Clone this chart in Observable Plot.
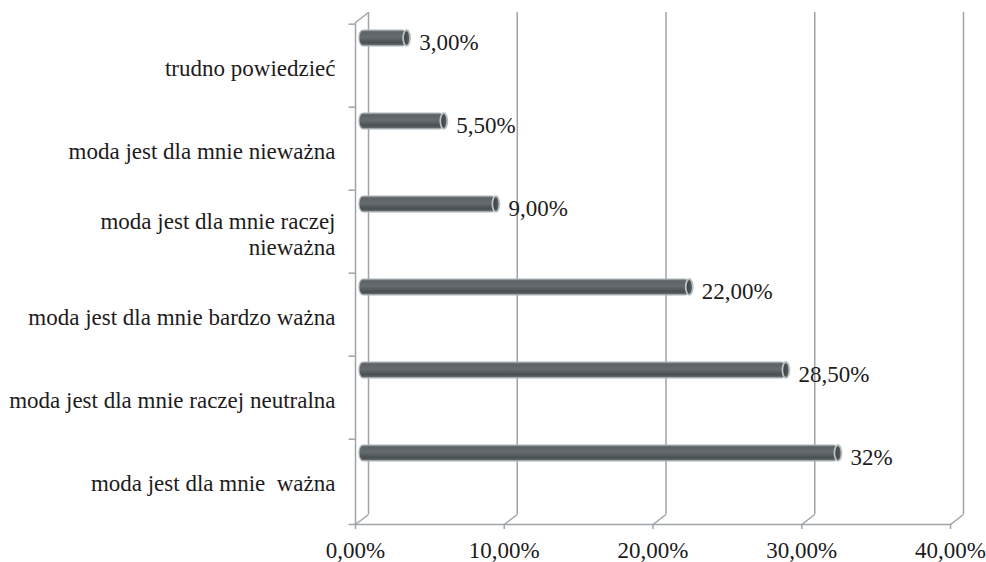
<!DOCTYPE html>
<html>
<head>
<meta charset="utf-8">
<script src="https://cdn.jsdelivr.net/npm/d3@7"></script>
<script src="https://cdn.jsdelivr.net/npm/@observablehq/plot@0.6"></script>
<style>
  body { margin: 0; background: #fff; }
  #chart svg text { font-family: "Liberation Serif", "Times New Roman", serif; }
</style>
</head>
<body>
<div id="chart"></div>
<script>
// Survey answers, top to bottom, with their shares (%)
const categories = [
  "trudno powiedzieć",
  "moda jest dla mnie nieważna",
  "moda jest dla mnie raczej\nnieważna",
  "moda jest dla mnie bardzo ważna",
  "moda jest dla mnie raczej neutralna",
  "moda jest dla mnie  ważna"
];
const values = [3, 5.5, 9, 22, 28.5, 32];
const valueLabels = ["3,00%", "5,50%", "9,00%", "22,00%", "28,50%", "32%"];
const xTicks = [0, 10, 20, 30, 40];

const data = categories.map((cat, i) => ({cat, value: values[i], label: valueLabels[i]}));

const W = 986, H = 562;
const margin = {top: 22, right: 36, bottom: 38, left: 355};
const band = (H - margin.top - margin.bottom) / categories.length;

// depth of the pseudo-3D box
const DX = 13, DY = -10;
const gridColor = "#9ea4a8";
const textColor = "#1e1b1c";
const font = "Liberation Serif";
const fontSize = 23;

// short receding edge of the box (floor / top-left corner)
const depthEdge = {draw(ctx) { ctx.moveTo(0, 0); ctx.lineTo(DX, DY); }};
// small horizontal tick on the category axis
const leftTick = {draw(ctx) { ctx.moveTo(-7, 0); ctx.lineTo(0, 0); }};

// bar geometry inside each band
const barTop = 6, barH = 16.5;

const chart = Plot.plot({
  width: W,
  height: H,
  marginTop: margin.top,
  marginRight: margin.right,
  marginBottom: margin.bottom,
  marginLeft: margin.left,
  style: {fontFamily: font},
  x: {domain: [0, 40]},
  y: {domain: categories, padding: 0, axis: null},
  marks: [
    // back wall grid lines
    Plot.ruleX(xTicks, {stroke: gridColor, strokeWidth: 1.5, dx: DX, dy: DY}),
    // floor edges joining back wall to the front axis
    Plot.dot(xTicks, {x: d => d, frameAnchor: "bottom", symbol: depthEdge, fill: "none", stroke: gridColor, strokeWidth: 1.5}),
    // left wall front edge and its top corner
    Plot.ruleX([0], {stroke: gridColor, strokeWidth: 1.5}),
    Plot.dot([0], {x: d => d, frameAnchor: "top", symbol: depthEdge, fill: "none", stroke: gridColor, strokeWidth: 1.5}),
    // front floor line
    Plot.frame({anchor: "bottom", stroke: gridColor, strokeWidth: 1.5}),
    // category boundary ticks
    Plot.dot(categories, {y: d => d, frameAnchor: "left", dy: -band / 2, symbol: leftTick, fill: "none", stroke: gridColor, strokeWidth: 1.5}),
    Plot.dot([0], {frameAnchor: "bottom-left", symbol: leftTick, fill: "none", stroke: gridColor, strokeWidth: 1.5}),
    // x axis
    Plot.axisX({
      ticks: xTicks,
      tickSize: 5,
      tickPadding: 12,
      stroke: gridColor,
      strokeWidth: 1.5,
      tickFormat: d => d.toFixed(2).replace(".", ",") + "%",
      fontSize,
      fontFamily: font,
      fill: textColor,
      label: null
    }),
    // cylinder bodies
    Plot.barX(data, {
      x1: 0, x2: "value", y: "cat",
      insetTop: barTop, insetBottom: band - barTop - barH,
      insetRight: -3,
      dx: 4,
      rx: 4, ry: barH / 2,
      fill: "url(#cyl)", stroke: "#a9b1b5", strokeWidth: 1.2
    }),
    // cylinder end caps
    Plot.barX(data, {
      x1: "value", x2: "value", y: "cat",
      insetTop: barTop, insetBottom: band - barTop - barH,
      insetLeft: -3.5, insetRight: -3.5,
      dx: 7,
      rx: 3.5, ry: barH / 2,
      fill: "url(#cap)", stroke: "#b9c1c5", strokeWidth: 1.8
    }),
    // value labels
    Plot.text(data, {
      x: "value", y: "cat", text: "label",
      textAnchor: "start", dx: 19, dy: barTop + barH / 2 + 4 - band / 2,
      fontSize, fontFamily: font, fill: textColor
    }),
    // category labels
    Plot.text(categories, {
      y: d => d, text: d => d,
      frameAnchor: "left", textAnchor: "end", dx: -20, dy: 2,
      lineHeight: 1.1,
      fontSize, fontFamily: font, fill: textColor,
      ariaLabel: "category labels"
    })
  ]
});

// gradients giving the bars their tubular shading
const defs = d3.select(chart).insert("defs", ":first-child");
const cyl = defs.append("linearGradient").attr("id", "cyl")
  .attr("x1", 0).attr("y1", 0).attr("x2", 0).attr("y2", 1);
[[0, "#8f989c"], [0.12, "#5c6265"], [0.45, "#656b6e"], [0.8, "#4a4f51"], [1, "#6c7477"]]
  .forEach(([o, c]) => cyl.append("stop").attr("offset", o).attr("stop-color", c));
const cap = defs.append("linearGradient").attr("id", "cap")
  .attr("x1", 0).attr("y1", 0).attr("x2", 1).attr("y2", 0);
[[0, "#3a3e40"], [1, "#5a6063"]]
  .forEach(([o, c]) => cap.append("stop").attr("offset", o).attr("stop-color", c));

document.getElementById("chart").append(chart);

// centre the lines of wrapped category labels under one another
d3.select(chart).selectAll('g[aria-label="category labels"] text').each(function () {
  const spans = Array.from(this.querySelectorAll("tspan"));
  if (spans.length < 2) return;
  const widths = spans.map(s => s.getComputedTextLength());
  const w = d3.max(widths);
  spans.forEach((s, i) => s.setAttribute("dx", -(w - widths[i]) / 2));
});
</script>
</body>
</html>
